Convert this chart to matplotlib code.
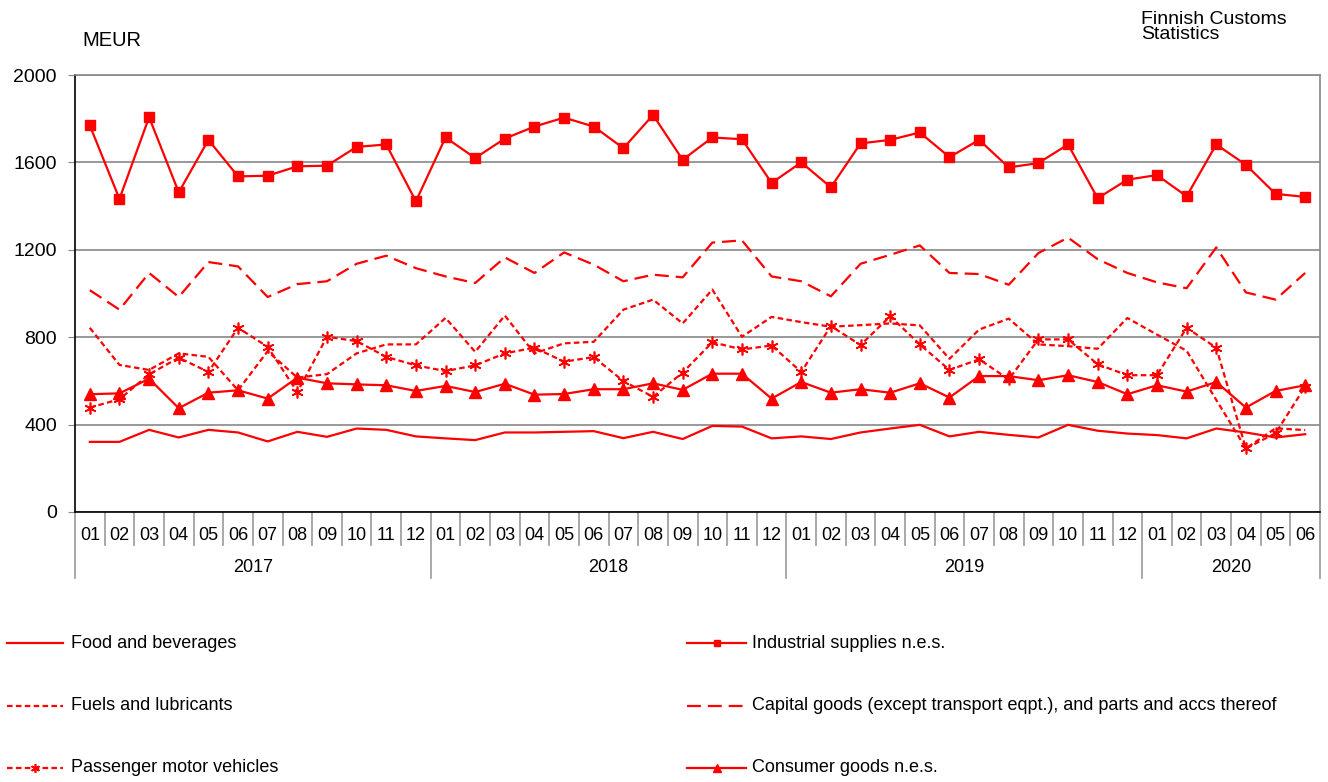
import matplotlib
matplotlib.use("Agg")
import matplotlib.pyplot as plt
import matplotlib.transforms as mtransforms

plt.rcParams['font.family'] = ['Liberation Sans', 'DejaVu Sans']
plt.rcParams['lines.scale_dashes'] = False

# -----------------------------
# data (MEUR, monthly 2017-01 .. 2020-06)
# -----------------------------
years = ["2017", "2018", "2019", "2020"]
months_per_year = [12, 12, 12, 6]
month_labels = []
for n in months_per_year:
    month_labels += ["%02d" % (m + 1) for m in range(n)]

food = [321, 321, 376, 341, 376, 364, 323, 367, 344, 382, 376, 346,
        337, 329, 364, 364, 367, 370, 338, 367, 334, 394, 391, 337,
        346, 334, 364, 382, 399, 346, 367, 353, 341, 399, 372, 359,
        352, 337, 382, 364, 341, 356]

industrial = [1769, 1433, 1807, 1463, 1703, 1536, 1539, 1582, 1585, 1671, 1682, 1422,
              1714, 1620, 1709, 1764, 1805, 1764, 1665, 1817, 1612, 1714, 1706, 1506,
              1600, 1486, 1687, 1703, 1737, 1624, 1703, 1577, 1597, 1682, 1436, 1521,
              1542, 1445, 1682, 1589, 1456, 1442]

fuels = [843, 673, 650, 726, 710, 557, 736, 615, 631, 726, 767, 767,
         888, 733, 899, 726, 772, 779, 926, 972, 863, 1018, 802, 893,
         869, 848, 855, 863, 854, 701, 835, 885, 767, 759, 747, 888,
         812, 738, 513, 291, 383, 375]

capital = [1015, 926, 1094, 984, 1144, 1124, 984, 1043, 1056, 1136, 1173, 1116,
           1078, 1048, 1165, 1094, 1188, 1132, 1056, 1086, 1074, 1233, 1243, 1078,
           1056, 987, 1136, 1177, 1220, 1094, 1089, 1040, 1185, 1256, 1157, 1094,
           1051, 1024, 1211, 1005, 972, 1094]

passenger = [478, 516, 630, 706, 641, 843, 756, 549, 802, 782, 710, 671,
             645, 671, 726, 752, 688, 709, 599, 527, 638, 777, 744, 762,
             641, 851, 764, 896, 767, 650, 699, 607, 790, 790, 676, 626,
             626, 843, 752, 291, 360, 574]

consumer = [539, 543, 610, 475, 546, 557, 519, 615, 589, 584, 580, 554,
            577, 549, 587, 537, 540, 562, 562, 589, 559, 633, 633, 519,
            595, 546, 562, 546, 589, 524, 622, 622, 603, 626, 595, 539,
            580, 551, 595, 478, 554, 580]

# -----------------------------
# styles
# -----------------------------
red = "#ff0000"
lw = 1.6
styles = {
    "Food and beverages": dict(color=red, lw=lw),
    "Industrial supplies n.e.s.": dict(color=red, lw=lw, marker="s", ms=6.5),
    "Fuels and lubricants": dict(color=red, lw=lw, dashes=(4, 2.4)),
    "Capital goods (except transport eqpt.), and parts and accs thereof":
        dict(color=red, lw=lw, dashes=(10, 5)),
    "Passenger motor vehicles": dict(color=red, lw=lw, dashes=(4, 2.4),
                                     marker=(6, 2, 0), ms=8.5, mew=1.2),
    "Consumer goods n.e.s.": dict(color=red, lw=lw, marker="^", ms=8),
}
series = {
    "Food and beverages": food,
    "Industrial supplies n.e.s.": industrial,
    "Fuels and lubricants": fuels,
    "Capital goods (except transport eqpt.), and parts and accs thereof": capital,
    "Passenger motor vehicles": passenger,
    "Consumer goods n.e.s.": consumer,
}

# -----------------------------
# plot
# -----------------------------
W, H = 1328, 782
fig = plt.figure(figsize=(W / 100, H / 100), dpi=100)
ax = fig.add_axes([75 / W, 1 - 512 / H, (1320 - 75) / W, (512 - 75) / H])

x = list(range(len(food)))
for name, vals in series.items():
    ax.plot(x, vals, **styles[name])

ax.set_xlim(-0.5, len(food) - 0.5)
ax.set_ylim(0, 2000)
ax.set_yticks([0, 400, 800, 1200, 1600, 2000])
ax.yaxis.grid(True, color="#888888", lw=1.2)
ax.set_axisbelow(True)
ax.tick_params(axis="y", length=5, color="#888888", labelsize=14, pad=8)
ax.tick_params(axis="x", length=0, labelsize=13, pad=11)
ax.set_xticks(x)
ax.set_xticklabels(month_labels)

ax.spines["left"].set_color("black")
ax.spines["bottom"].set_color("black")
ax.spines["top"].set_color("#888888")
ax.spines["right"].set_color("#888888")
for s in ax.spines.values():
    s.set_linewidth(1.2)

# month / year separators below the axis
trans = mtransforms.blended_transform_factory(ax.transData, ax.transAxes)
bounds = [-0.5]
for n in months_per_year:
    bounds.append(bounds[-1] + n)
short = 33 / 437
long_ = 66 / 437
for b in range(len(food) + 1):
    xb = b - 0.5
    depth = long_ if xb in bounds else short
    ax.plot([xb, xb], [0, -depth], transform=trans, color="#999999",
            lw=1.2, clip_on=False)
for i, yr in enumerate(years):
    ax.text((bounds[i] + bounds[i + 1]) / 2, -55 / 437, yr, transform=trans,
            ha="center", va="center", fontsize=13)

fig.text(82 / W, 1 - 40 / H, "MEUR", fontsize=14.5, va="center", ha="left")
fig.text(1141 / W, 1 - 27 / H, "Finnish Customs\nStatistics", fontsize=14,
         va="center", ha="left", linespacing=0.9)

# -----------------------------
# legend (drawn manually, two columns)
# -----------------------------
lax = fig.add_axes([0, 0, 1, 1])
lax.set_xlim(0, W)
lax.set_ylim(H, 0)
lax.axis("off")
cols = [(7, 63, 71), (687, 746, 752)]
rows = [643, 706, 768]
order = [["Food and beverages", "Fuels and lubricants", "Passenger motor vehicles"],
         ["Industrial supplies n.e.s.",
          "Capital goods (except transport eqpt.), and parts and accs thereof",
          "Consumer goods n.e.s."]]
for (x0, x1, xt), names in zip(cols, order):
    for yy, name in zip(rows, names):
        st = dict(styles[name])
        mk = st.pop("marker", None)
        ms = st.pop("ms", None)
        mew = st.pop("mew", None)
        lax.plot([x0, x1], [yy, yy], **st)
        if mk is not None:
            kw = dict(marker=mk, ms=ms * 0.75, color=red, ls="none")
            if mew:
                kw["mew"] = mew
            lax.plot([(x0 + x1) / 2], [yy], **kw)
        lax.text(xt, yy, name, fontsize=13, va="center", ha="left")

fig.savefig("out.png", dpi=100)
print("done")
